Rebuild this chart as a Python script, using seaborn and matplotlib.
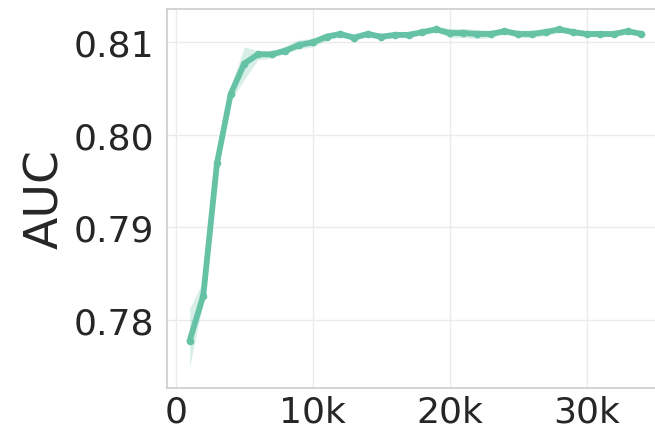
import numpy as np
import pandas as pd
import matplotlib
matplotlib.use("Agg")
import matplotlib.pyplot as plt
import seaborn as sns
from matplotlib.ticker import FuncFormatter

# training steps and AUC (mean with lower / upper band)
steps = [1000 * i for i in range(1, 35)]
auc_mean = [0.7777, 0.7826, 0.7969, 0.8044, 0.8077, 0.8087, 0.8087, 0.8091, 0.8097, 0.8100,
            0.8106, 0.8109, 0.8105, 0.8109, 0.8106, 0.8108, 0.8108, 0.8111, 0.8114, 0.8110,
            0.8110, 0.8109, 0.8109, 0.8112, 0.8109, 0.8109, 0.8111, 0.8114, 0.8111, 0.8109,
            0.8109, 0.8109, 0.8112, 0.8109]
auc_lower = [0.7749, 0.7819, 0.7965, 0.8036, 0.8060, 0.8081, 0.8083, 0.8088, 0.8093, 0.8095,
             0.8102, 0.8106, 0.8102, 0.8106, 0.8103, 0.8105, 0.8105, 0.8108, 0.8111, 0.8105,
             0.8105, 0.8104, 0.8105, 0.8109, 0.8105, 0.8105, 0.8107, 0.8111, 0.8108, 0.8106,
             0.8106, 0.8106, 0.8109, 0.8107]
auc_upper = [0.7812, 0.7842, 0.7975, 0.8053, 0.8095, 0.8091, 0.8090, 0.8096, 0.8103, 0.8104,
             0.8110, 0.8112, 0.8108, 0.8112, 0.8109, 0.8111, 0.8111, 0.8114, 0.8117, 0.8115,
             0.8115, 0.8114, 0.8113, 0.8115, 0.8113, 0.8113, 0.8115, 0.8117, 0.8114, 0.8112,
             0.8112, 0.8112, 0.8115, 0.8111]
y_ticks = [0.78, 0.79, 0.80, 0.81]
x_ticks = [0, 10000, 20000, 30000]

df = pd.DataFrame({"step": steps, "AUC": auc_mean})

sns.set_theme(style="whitegrid")
plt.rcParams['font.family'] = ['DejaVu Sans']
color = sns.color_palette("Set2")[0]

fig = plt.figure(figsize=(6.55, 4.31), dpi=100)
ax = fig.add_axes([167 / 655, 42 / 431, (664 - 167) / 655, (389 - 10) / 431])

ax.fill_between(steps, auc_lower, auc_upper, color=color, alpha=0.25, linewidth=0)
sns.lineplot(data=df, x="step", y="AUC", ax=ax, color=color, linewidth=4.2,
             marker="o", markersize=5.5, markeredgewidth=0)

ax.set_xlim(-650, 35650)
ax.set_ylim(0.7726, 0.8136)
ax.set_xticks(x_ticks)
ax.set_yticks(y_ticks)
ax.xaxis.set_major_formatter(FuncFormatter(lambda v, p: "0" if v == 0 else f"{int(v / 1000)}k"))
ax.yaxis.set_major_formatter(FuncFormatter(lambda v, p: f"{v:.2f}"))
ax.tick_params(axis="both", labelsize=26, colors="#262626", length=0)
ax.tick_params(axis="y", pad=9)
ax.tick_params(axis="x", pad=5)
ax.set_xlabel("")
ax.set_ylabel("AUC", fontsize=34, color="#262626", labelpad=4)

ax.grid(color="#ebebeb", linewidth=1)
for s in ax.spines.values():
    s.set_color("#cccccc")
    s.set_linewidth(1.2)

fig.savefig("out.png", dpi=100)
